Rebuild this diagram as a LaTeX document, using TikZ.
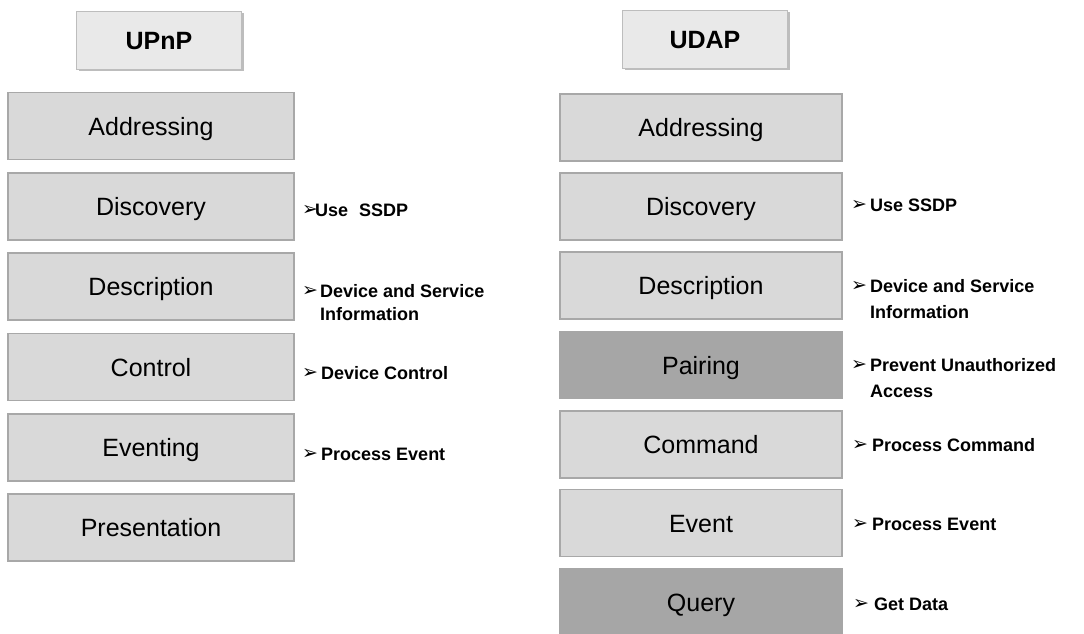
\documentclass[tikz,border=0pt]{standalone}
\usepackage{fontspec}
\setmainfont{Liberation Sans}
\newfontfamily\dvfont{DejaVu Sans}
\definecolor{boxfill}{HTML}{D9D9D9}
\definecolor{darkfill}{HTML}{A6A6A6}
\definecolor{boxline}{HTML}{A8A8A8}
\definecolor{headfill}{HTML}{E9E9E9}
\definecolor{headshadow}{HTML}{BDBDBD}
\newcommand{\arrmark}{{\dvfont\bfseries\fontsize{19}{19}\selectfont ➢}}
\begin{document}
\begin{tikzpicture}[x=1pt,y=-1pt,
  layer/.style={draw=boxline, fill=boxfill, line width=1.2pt, minimum height=67pt, inner sep=0pt,
    text height=18pt, text depth=0pt, font=\fontsize{25}{30}\selectfont},
  lwide/.style={layer, minimum width=286pt},
  rwide/.style={layer, minimum width=282pt},
  darklayer/.style={fill=darkfill, draw=darkfill},
  header/.style={draw=headshadow, fill=headfill, line width=0.8pt, minimum width=165pt, minimum height=58pt,
    inner sep=0pt, text height=18pt, text depth=0pt, font=\bfseries\fontsize{25}{30}\selectfont},
  shadowbox/.style={fill=headshadow, minimum width=165pt, minimum height=58pt, inner sep=0pt},
  arrowmark/.style={anchor=west, inner sep=0pt, text height=10pt, text depth=0pt},
  note/.style={anchor=west, inner sep=0pt, text height=13pt, text depth=0pt,
    font=\bfseries\fontsize{18}{20}\selectfont},
]
\useasboundingbox (0,0) rectangle (1084,633);

% headers
\node[shadowbox] (upnpS) at (161,42) {};
\node[header] (upnp) at (159,40) {UPnP};
\node[shadowbox] (udapS) at (707,41) {};
\node[header] (udap) at (705,39) {UDAP};

% UPnP stack
\node[lwide] (la) at (151,126) {Addressing};
\node[lwide] (ld) at (151,206.5) {Discovery};
\node[lwide] (le) at (151,286.5) {Description};
\node[lwide] (lc) at (151,367) {Control};
\node[lwide] (lv) at (151,447.5) {Eventing};
\node[lwide] (lp) at (151,527.5) {Presentation};

% UDAP stack
\node[rwide] (ra) at (701,127.5) {Addressing};
\node[rwide] (rd) at (701,206.5) {Discovery};
\node[rwide] (re) at (701,285.5) {Description};
\node[rwide,darklayer] (rp) at (701,365) {Pairing};
\node[rwide] (rc) at (701,444.5) {Command};
\node[rwide] (rv) at (701,523) {Event};
\node[rwide,darklayer] (rq) at (701,602) {Query};

% UPnP notes
\node[arrowmark] (lda) at (302,210) {\arrmark};
\node[note] (ldt) at (315,210) {Use\hspace{0.6em}SSDP};
\node[arrowmark] (lea) at (302,291) {\arrmark};
\node[note] (let) at (320,291) {Device and Service};
\node[note] (let2) at (320,314) {Information};
\node[arrowmark] (lca) at (302,373) {\arrmark};
\node[note] (lct) at (321,373) {Device Control};
\node[arrowmark] (lva) at (302,454) {\arrmark};
\node[note] (lvt) at (321,454) {Process Event};

% UDAP notes
\node[arrowmark] (rda) at (851,205) {\arrmark};
\node[note] (rdt) at (870,205) {Use SSDP};
\node[arrowmark] (rea) at (851,286) {\arrmark};
\node[note] (ret) at (870,286) {Device and Service};
\node[note] (ret2) at (870,312) {Information};
\node[arrowmark] (rpa) at (851,365) {\arrmark};
\node[note] (rpt) at (870,365) {Prevent Unauthorized};
\node[note] (rpt2) at (870,391) {Access};
\node[arrowmark] (rca) at (852,445) {\arrmark};
\node[note] (rct) at (872,445) {Process Command};
\node[arrowmark] (rva) at (852,524) {\arrmark};
\node[note] (rvt) at (872,524) {Process Event};
\node[arrowmark] (rqa) at (853,604) {\arrmark};
\node[note] (rqt) at (874,604) {Get Data};
\end{tikzpicture}
\end{document}
